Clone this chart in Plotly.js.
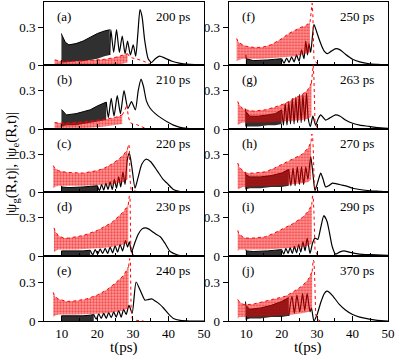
<!DOCTYPE html>
<html>
<head>
<meta charset="utf-8">
<script src="https://cdn.plot.ly/plotly-3.0.1.min.js"></script>
<style>
  html, body { margin: 0; padding: 0; background: #fff; }
  #chart { width: 395px; height: 358px; }
</style>
</head>
<body>
<div id="chart"></div>
<script>
// Values: t in ps, amplitudes |psi|.
// "gBand" / "eBand" = envelopes of the dense oscillation regions,
// "gT/gY" and "eT/eY" = the resolved parts of each curve.

// (a) 200 ps
const a_gBandT  = [9.9, 10, 11, 12, 14, 16, 18, 20, 22, 23.5];
const a_gBandHi = [0.25, 0.24, 0.18, 0.16, 0.17, 0.19, 0.22, 0.25, 0.27, 0.28];
const a_gBandLo = [0.02, 0.02, 0.02, 0.02, 0.03, 0.03, 0.04, 0.05, 0.07, 0.08];
const a_gT = [23.5, 23.8, 24.6, 25.4, 26.2, 27.0, 27.8, 28.5, 29.3, 30.1, 30.8, 31.4, 32.0, 32.6, 33.3, 34.3, 35.3, 36.3, 37.5, 39, 41, 43, 46, 50];
const a_gY = [0.08, 0.28, 0.10, 0.28, 0.10, 0.23, 0.09, 0.19, 0.08, 0.16, 0.07, 0.25, 0.44, 0.38, 0.2, 0.05, 0.02, 0.05, 0.07, 0.055, 0.03, 0.015, 0.005, 0];
const a_eBandT  = [8.0, 10, 14, 18, 22, 25, 27, 28.5];
const a_eBandHi = [0.04, 0.03, 0.03, 0.035, 0.045, 0.06, 0.075, 0.09];
const a_eBandLo = [0, 0, 0, 0, 0, 0.005, 0.01, 0.02];
const a_eT = [28.5, 29.2, 30, 31, 32, 33, 34, 35, 36];
const a_eY = [0.09, 0.06, 0.055, 0.05, 0.04, 0.03, 0.015, 0.005, 0];

// (b) 210 ps
const b_gBandT  = [9.9, 10, 11.3, 14, 16, 18, 20, 22.5];
const b_gBandHi = [0.15, 0.15, 0.11, 0.12, 0.135, 0.15, 0.18, 0.21];
const b_gBandLo = [0.02, 0.02, 0.03, 0.03, 0.04, 0.05, 0.06, 0.07];
const b_gT = [22.5, 23.1, 23.9, 24.7, 25.6, 26.5, 27.5, 28.6, 29.6, 30.7, 31.5, 32.3, 33.0, 33.8, 34.9, 36.3, 38, 40, 41.4, 43, 45.2, 48, 50];
const b_gY = [0.21, 0.09, 0.24, 0.10, 0.26, 0.12, 0.30, 0.16, 0.215, 0.15, 0.3, 0.39, 0.33, 0.22, 0.16, 0.12, 0.085, 0.05, 0.03, 0.015, 0.005, 0, 0];
const b_eBandT  = [8.0, 10, 14, 18, 22, 25, 27];
const b_eBandHi = [0.05, 0.045, 0.05, 0.06, 0.075, 0.09, 0.11];
const b_eBandLo = [0, 0, 0.005, 0.01, 0.02, 0.03, 0.04];
const b_eT = [27, 27.8, 28.3, 28.7, 29.2, 30, 31, 32, 33, 34];
const b_eY = [0.11, 0.15, 0.19, 0.1, 0.05, 0.04, 0.035, 0.025, 0.015, 0];

// (c) 220 ps
const c_gBandT  = [9.9, 10, 12, 14, 16, 18, 20];
const c_gBandHi = [0.05, 0.04, 0.035, 0.035, 0.04, 0.045, 0.05];
const c_gBandLo = [0, 0, 0, 0, 0, 0, 0.005];
const c_gT = [20, 20.6, 21.2, 21.8, 22.4, 23.0, 23.6, 24.2, 24.8, 25.4, 26.0, 26.6, 27.2, 27.8, 28.4, 29.0, 29.7, 30.6, 31.5, 32.5, 33.7, 35, 36.8, 38.5, 39.6, 41.4, 43, 46, 50];
const c_gY = [0.05, 0.01, 0.06, 0.015, 0.07, 0.02, 0.08, 0.02, 0.1, 0.03, 0.12, 0.04, 0.16, 0.06, 0.25, 0.31, 0.2, 0.03, 0.12, 0.22, 0.26, 0.24, 0.17, 0.1, 0.07, 0.02, 0.005, 0, 0];
const c_eBandT  = [7.6, 8, 9, 10.4, 12, 14, 16, 18, 20, 22, 24, 26, 27.5, 28.5];
const c_eBandHi = [0.21, 0.19, 0.17, 0.16, 0.155, 0.15, 0.15, 0.16, 0.17, 0.19, 0.22, 0.26, 0.3, 0.34];
const c_eBandLo = [0.03, 0.04, 0.05, 0.05, 0.05, 0.05, 0.05, 0.05, 0.055, 0.06, 0.06, 0.07, 0.08, 0.1];
const c_eT = [28.5, 28.8, 29.0, 29.2, 29.5, 30, 31, 32];
const c_eY = [0.34, 0.38, 0.36, 0.1, 0.02, 0.01, 0.005, 0];

// (d) 230 ps
const d_gBandT  = [9.9, 10, 12, 14, 16, 18];
const d_gBandHi = [0.04, 0.04, 0.035, 0.035, 0.04, 0.045];
const d_gBandLo = [0, 0, 0, 0, 0, 0];
const d_gT = [18, 18.7, 19.4, 20.1, 20.8, 21.5, 22.2, 22.9, 23.6, 24.3, 25.0, 25.7, 26.4, 27.1, 27.9, 28.5, 29.0, 29.6, 30.5, 31.5, 32.5, 33.5, 34.5, 35.5, 36.5, 37.7, 39, 40.5, 42.4, 45, 50];
const d_gY = [0.045, 0.01, 0.05, 0.015, 0.055, 0.02, 0.06, 0.02, 0.07, 0.025, 0.08, 0.03, 0.09, 0.04, 0.12, 0.07, 0.11, 0.03, 0.1, 0.17, 0.21, 0.22, 0.21, 0.19, 0.17, 0.15, 0.1, 0.035, 0.01, 0, 0];
const d_eBandT  = [7.8, 8.2, 9, 10.5, 12, 14, 16, 18, 20, 22, 24, 26, 27.5, 28.7];
const d_eBandHi = [0.22, 0.19, 0.16, 0.14, 0.14, 0.15, 0.16, 0.18, 0.2, 0.23, 0.26, 0.31, 0.35, 0.4];
const d_eBandLo = [0.03, 0.04, 0.05, 0.05, 0.05, 0.05, 0.05, 0.055, 0.06, 0.065, 0.07, 0.08, 0.09, 0.1];
const d_eT = [28.7, 29.0, 29.2, 29.4, 29.7, 30.5, 32];
const d_eY = [0.4, 0.47, 0.45, 0.1, 0.02, 0.005, 0];

// (e) 240 ps
const e_gBandT  = [9.9, 10, 12, 14, 16, 18, 19];
const e_gBandHi = [0.04, 0.04, 0.035, 0.035, 0.04, 0.045, 0.05];
const e_gBandLo = [0, 0, 0, 0, 0, 0, 0];
const e_gT = [19, 19.7, 20.4, 21.1, 21.8, 22.5, 23.2, 23.9, 24.6, 25.3, 26.0, 26.7, 27.4, 28.1, 28.9, 29.8, 30.9, 32.0, 33.4, 34.3, 35.3, 36.5, 37.5, 38.6, 40, 41.4, 43.3, 46, 50];
const e_gY = [0.05, 0.015, 0.055, 0.02, 0.06, 0.02, 0.065, 0.025, 0.07, 0.03, 0.08, 0.03, 0.09, 0.05, 0.12, 0.06, 0.30, 0.24, 0.16, 0.165, 0.17, 0.15, 0.13, 0.1, 0.055, 0.02, 0.005, 0, 0];
const e_eBandT  = [7.6, 8, 9, 11.4, 14, 17, 20, 22.7, 25, 27.4, 28.8];
const e_eBandHi = [0.22, 0.19, 0.17, 0.15, 0.155, 0.17, 0.2, 0.24, 0.29, 0.35, 0.42];
const e_eBandLo = [0.03, 0.04, 0.05, 0.05, 0.05, 0.05, 0.055, 0.06, 0.07, 0.08, 0.1];
const e_eT = [28.8, 29.1, 29.3, 29.5, 29.8, 31, 33];
const e_eY = [0.42, 0.48, 0.45, 0.1, 0.02, 0.005, 0];

// (f) 250 ps
const f_gBandT  = [9.9, 10, 12, 14, 16, 18, 20];
const f_gBandHi = [0.08, 0.05, 0.035, 0.035, 0.04, 0.045, 0.05];
const f_gBandLo = [0, 0, 0, 0, 0, 0, 0];
const f_gT = [20, 20.7, 21.4, 22.1, 22.8, 23.5, 24.2, 24.9, 25.6, 26.3, 26.8, 27.3, 27.7, 28.2, 29.1, 29.8, 30.5, 31.3, 32, 32.9, 34, 35.3, 36.5, 38, 40, 42, 44.7, 47, 50];
const f_gY = [0.05, 0.015, 0.055, 0.02, 0.065, 0.025, 0.08, 0.03, 0.12, 0.05, 0.19, 0.08, 0.17, 0.1, 0.32, 0.27, 0.21, 0.15, 0.11, 0.09, 0.11, 0.13, 0.12, 0.085, 0.045, 0.025, 0.01, 0.005, 0];
const f_eBandT  = [7.3, 7.8, 9, 9.7, 12, 14.4, 17, 20.1, 22, 23.9, 25.5, 26.7, 28.0];
const f_eBandHi = [0.21, 0.18, 0.16, 0.15, 0.14, 0.14, 0.16, 0.21, 0.25, 0.28, 0.3, 0.31, 0.34];
const f_eBandLo = [0.03, 0.04, 0.05, 0.05, 0.05, 0.05, 0.055, 0.06, 0.065, 0.07, 0.08, 0.09, 0.1];
const f_eT = [28.0, 28.4, 28.6, 28.8, 29.1, 30, 31];
const f_eY = [0.34, 0.45, 0.49, 0.4, 0.05, 0.01, 0];

// (g) 263 ps
const g_gBandT  = [9.7, 9.8, 11, 13.4, 16, 18.2, 20];
const g_gBandHi = [0.16, 0.14, 0.1, 0.1, 0.11, 0.12, 0.15];
const g_gBandLo = [0.02, 0.02, 0.02, 0.02, 0.03, 0.03, 0.04];
const g_gT = [20, 20.5, 21, 21.5, 22, 22.5, 23, 23.5, 24, 24.5, 25, 25.5, 26, 26.5, 27, 27.5, 28.1, 28.8, 29.6, 30.3, 31, 31.7, 32.4, 33.5, 35.2, 36.5, 38, 40, 42, 44.7, 47, 50];
const g_gY = [0.15, 0.03, 0.2, 0.03, 0.21, 0.04, 0.24, 0.04, 0.25, 0.05, 0.27, 0.05, 0.27, 0.06, 0.28, 0.08, 0.02, 0.1, 0.03, 0.08, 0.11, 0.09, 0.07, 0.085, 0.11, 0.1, 0.07, 0.045, 0.03, 0.02, 0.01, 0.005];
const g_eBandT  = [7.6, 8, 9, 9.7, 12, 15.4, 18, 21, 23, 25.8, 27.5, 28.4];
const g_eBandHi = [0.215, 0.19, 0.16, 0.15, 0.14, 0.15, 0.17, 0.2, 0.23, 0.27, 0.31, 0.36];
const g_eBandLo = [0.03, 0.04, 0.05, 0.05, 0.05, 0.05, 0.055, 0.06, 0.065, 0.07, 0.08, 0.1];
const g_eT = [28.4, 28.7, 28.9, 29.1, 29.4, 30, 31];
const g_eY = [0.36, 0.46, 0.5, 0.4, 0.05, 0.01, 0];

// (h) 270 ps
const h_gBandT  = [9.7, 9.8, 11, 14, 17, 20, 22];
const h_gBandHi = [0.16, 0.14, 0.12, 0.12, 0.13, 0.15, 0.18];
const h_gBandLo = [0.02, 0.02, 0.03, 0.03, 0.04, 0.04, 0.05];
const h_gT = [22, 22.6, 23.2, 23.8, 24.4, 25.0, 25.6, 26.2, 26.8, 27.4, 28.2, 28.8, 29.4, 30.2, 31.0, 31.7, 32.4, 33.3, 34.3, 35.5, 37, 38.5, 40, 42, 45, 48, 50];
const h_gY = [0.18, 0.05, 0.19, 0.05, 0.2, 0.06, 0.2, 0.06, 0.2, 0.1, 0.28, 0.15, 0.01, 0.08, 0.15, 0.1, 0.04, 0.05, 0.07, 0.065, 0.055, 0.045, 0.03, 0.02, 0.01, 0.005, 0];
const h_eBandT  = [7.6, 8, 9, 9.7, 12, 15.4, 18, 21, 23, 25.8, 27.5, 28.3];
const h_eBandHi = [0.23, 0.2, 0.17, 0.15, 0.15, 0.16, 0.19, 0.23, 0.26, 0.3, 0.35, 0.4];
const h_eBandLo = [0.02, 0.03, 0.04, 0.04, 0.04, 0.045, 0.05, 0.055, 0.06, 0.07, 0.08, 0.1];
const h_eT = [28.3, 28.5, 28.7, 28.9, 29.2, 30, 31];
const h_eY = [0.4, 0.46, 0.45, 0.35, 0.05, 0.01, 0];

// (i) 290 ps
const i_gBandT  = [9.9, 10, 12, 14, 16, 18, 20];
const i_gBandHi = [0.05, 0.04, 0.035, 0.035, 0.04, 0.045, 0.05];
const i_gBandLo = [0, 0, 0, 0, 0, 0, 0];
const i_gT = [20, 20.6, 21.2, 21.8, 22.4, 23.0, 23.6, 24.2, 24.8, 25.4, 26.0, 26.6, 27.2, 28.0, 28.7, 29.4, 30.2, 31.0, 31.9, 32.8, 33.5, 34.3, 35.2, 36.3, 37.6, 39, 41.9, 45, 50];
const i_gY = [0.05, 0.015, 0.06, 0.02, 0.065, 0.02, 0.075, 0.025, 0.09, 0.03, 0.11, 0.04, 0.14, 0.02, 0.1, 0.14, 0.13, 0.22, 0.315, 0.27, 0.18, 0.07, 0.015, 0.03, 0.04, 0.03, 0.015, 0.01, 0.005];
const i_eBandT  = [7.6, 8, 9, 9.7, 12, 15.4, 18, 21, 23, 25.8, 27.5, 28.5];
const i_eBandHi = [0.2, 0.17, 0.15, 0.14, 0.14, 0.15, 0.18, 0.22, 0.25, 0.3, 0.35, 0.4];
const i_eBandLo = [0.04, 0.05, 0.05, 0.05, 0.05, 0.05, 0.055, 0.06, 0.065, 0.07, 0.08, 0.1];
const i_eT = [28.5, 28.7, 28.9, 29.1, 29.4, 30, 31];
const i_eY = [0.4, 0.47, 0.46, 0.35, 0.05, 0.01, 0];

// (j) 370 ps
const j_gBandT  = [9.8, 9.9, 11, 14, 17, 20, 22];
const j_gBandHi = [0.15, 0.12, 0.09, 0.1, 0.12, 0.15, 0.18];
const j_gBandLo = [0.01, 0.01, 0.02, 0.02, 0.03, 0.03, 0.04];
const j_gT = [22, 22.9, 23.6, 24.3, 25.1, 25.9, 26.5, 27.2, 28.0, 28.4, 29.1, 30, 31, 32, 32.7, 33.5, 34.5, 36.2, 38, 40, 42, 44.7, 47, 50];
const j_gY = [0.04, 0.19, 0.06, 0.2, 0.07, 0.21, 0.08, 0.21, 0.07, 0.1, 0.0, 0.05, 0.14, 0.21, 0.23, 0.22, 0.19, 0.13, 0.085, 0.05, 0.03, 0.015, 0.005, 0];
const j_eBandT  = [7.6, 8, 9, 9.7, 12, 15.4, 18, 21, 23, 25.8, 27.5, 28.6];
const j_eBandHi = [0.165, 0.15, 0.13, 0.125, 0.13, 0.15, 0.17, 0.19, 0.22, 0.27, 0.32, 0.38];
const j_eBandLo = [0.02, 0.03, 0.03, 0.03, 0.03, 0.035, 0.04, 0.045, 0.05, 0.06, 0.07, 0.09];
const j_eT = [28.6, 28.9, 29.1, 29.3, 29.6, 30.2, 31];
const j_eY = [0.38, 0.47, 0.46, 0.35, 0.05, 0.01, 0];

const panelTags = ['(a)', '(b)', '(c)', '(d)', '(e)', '(f)', '(g)', '(h)', '(i)', '(j)'];
const delays = ['200 ps', '210 ps', '220 ps', '230 ps', '240 ps', '250 ps', '263 ps', '270 ps', '290 ps', '370 ps'];
const xTicks = [10, 20, 30, 40, 50];
const yTicks = [0, 0.3];

const panels = [
    {gBand: [a_gBandT, a_gBandHi, a_gBandLo], g: [a_gT, a_gY], eBand: [a_eBandT, a_eBandHi, a_eBandLo], e: [a_eT, a_eY]},
    {gBand: [b_gBandT, b_gBandHi, b_gBandLo], g: [b_gT, b_gY], eBand: [b_eBandT, b_eBandHi, b_eBandLo], e: [b_eT, b_eY]},
    {gBand: [c_gBandT, c_gBandHi, c_gBandLo], g: [c_gT, c_gY], eBand: [c_eBandT, c_eBandHi, c_eBandLo], e: [c_eT, c_eY]},
    {gBand: [d_gBandT, d_gBandHi, d_gBandLo], g: [d_gT, d_gY], eBand: [d_eBandT, d_eBandHi, d_eBandLo], e: [d_eT, d_eY]},
    {gBand: [e_gBandT, e_gBandHi, e_gBandLo], g: [e_gT, e_gY], eBand: [e_eBandT, e_eBandHi, e_eBandLo], e: [e_eT, e_eY]},
    {gBand: [f_gBandT, f_gBandHi, f_gBandLo], g: [f_gT, f_gY], eBand: [f_eBandT, f_eBandHi, f_eBandLo], e: [f_eT, f_eY]},
    {gBand: [g_gBandT, g_gBandHi, g_gBandLo], g: [g_gT, g_gY], eBand: [g_eBandT, g_eBandHi, g_eBandLo], e: [g_eT, g_eY]},
    {gBand: [h_gBandT, h_gBandHi, h_gBandLo], g: [h_gT, h_gY], eBand: [h_eBandT, h_eBandHi, h_eBandLo], e: [h_eT, h_eY]},
    {gBand: [i_gBandT, i_gBandHi, i_gBandLo], g: [i_gT, i_gY], eBand: [i_eBandT, i_eBandHi, i_eBandLo], e: [i_eT, i_eY]},
    {gBand: [j_gBandT, j_gBandHi, j_gBandLo], g: [j_gT, j_gY], eBand: [j_eBandT, j_eBandHi, j_eBandLo], e: [j_eT, j_eY]}
];

// page geometry in pixels
const W = 395, H = 358;
const colPx = [[44, 204], [228.5, 388]];
const rowPx = [2, 65, 129, 192, 256, 321];
const serif = 'Liberation Serif';

function bandTrace(band, ax, fillcolor, pattern) {
    const [t, hi, lo] = band;
    return {
        type: 'scatter', mode: 'lines',
        x: t.concat(t.slice().reverse()),
        y: hi.concat(lo.slice().reverse()),
        fill: 'toself', fillcolor: fillcolor, fillpattern: pattern,
        line: {width: 0},
        xaxis: ax.x, yaxis: ax.y, hoverinfo: 'skip', showlegend: false
    };
}

function lineTrace(t, y, ax, line) {
    return {
        type: 'scatter', mode: 'lines', x: t, y: y, line: line,
        xaxis: ax.x, yaxis: ax.y, hoverinfo: 'skip', showlegend: false
    };
}

const data = [];
const layout = {
    width: W, height: H,
    margin: {l: 0, r: 0, t: 0, b: 0},
    paper_bgcolor: 'white', plot_bgcolor: 'white',
    showlegend: false,
    font: {family: serif, size: 13, color: 'black'},
    annotations: []
};

panels.forEach((p, k) => {
    const col = k < 5 ? 0 : 1;
    const row = k % 5;
    const n = k === 0 ? '' : String(k + 1);
    const ax = {x: 'x' + n, y: 'y' + n};

    // ground state |psi_g|: dense part as a dark band, then the resolved curve
    data.push(bandTrace(p.gBand, ax, 'rgba(0,0,0,0.75)',
        {shape: '|', fgcolor: 'black', size: 2, solidity: 0.5, fillmode: 'overlay'}));
    data.push(lineTrace(p.gBand[0], p.gBand[1], ax, {color: 'black', width: 1}));
    data.push(lineTrace(p.g[0], p.g[1], ax, {color: 'black', width: 1.2, shape: 'spline', smoothing: 0.6}));

    // excited state |psi_e|: red dotted
    data.push(bandTrace(p.eBand, ax, 'rgba(255,0,0,0.4)',
        {shape: '.', fgcolor: 'rgb(230,0,0)', size: 3, solidity: 0.45, fillmode: 'overlay'}));
    data.push(lineTrace(p.eBand[0], p.eBand[1], ax, {color: 'red', width: 1, dash: 'dot'}));
    data.push(lineTrace(p.e[0], p.e[1], ax, {color: 'red', width: 1, dash: 'dot'}));

    layout['xaxis' + n] = {
        domain: [colPx[col][0] / W, colPx[col][1] / W],
        range: [5, 50], anchor: ax.y,
        showline: true, mirror: true, linecolor: 'black', linewidth: 1,
        showgrid: false, zeroline: false,
        ticks: 'inside', tickvals: xTicks, ticklen: 5, tickcolor: 'black',
        minor: {ticks: 'inside', dtick: 5, tick0: 0, ticklen: 3, tickcolor: 'black'},
        showticklabels: row === 4,
        tickfont: {family: serif, size: 13}
    };
    layout['yaxis' + n] = {
        domain: [1 - rowPx[row + 1] / H, 1 - rowPx[row] / H],
        range: [0, 0.5], anchor: ax.x,
        showline: true, mirror: true, linecolor: 'black', linewidth: 1,
        showgrid: false, zeroline: false,
        ticks: 'outside', tickvals: yTicks, ticktext: ['0', '0.3'], ticklen: 5, tickcolor: 'black',
        tickfont: {family: serif, size: 13}
    };

    layout.annotations.push({
        xref: ax.x, yref: ax.y, x: 8.2, y: 0.385, xanchor: 'left', yanchor: 'middle',
        text: panelTags[k], showarrow: false, font: {family: serif, size: 13}
    });
    layout.annotations.push({
        xref: ax.x, yref: ax.y, x: 46.5, y: 0.385, xanchor: 'right', yanchor: 'middle',
        text: delays[k], showarrow: false, font: {family: serif, size: 13}
    });
});

// axis titles
colPx.forEach(c => {
    layout.annotations.push({
        xref: 'paper', yref: 'paper', x: (c[0] + c[1]) / 2 / W, y: 1 - 347 / H,
        xanchor: 'center', yanchor: 'middle', text: 't(ps)', showarrow: false,
        font: {family: serif, size: 15}
    });
});
layout.annotations.push({
    xref: 'paper', yref: 'paper', x: 12 / W, y: 1 - 164 / H,
    xanchor: 'center', yanchor: 'middle', textangle: -90, showarrow: false,
    text: '|\u03c8<sub>g</sub>(R,t)|, |\u03c8<sub>e</sub>(R,t)|',
    font: {family: serif, size: 15}
});

Plotly.newPlot('chart', data, layout, {staticPlot: true, displayModeBar: false});
</script>
</body>
</html>
